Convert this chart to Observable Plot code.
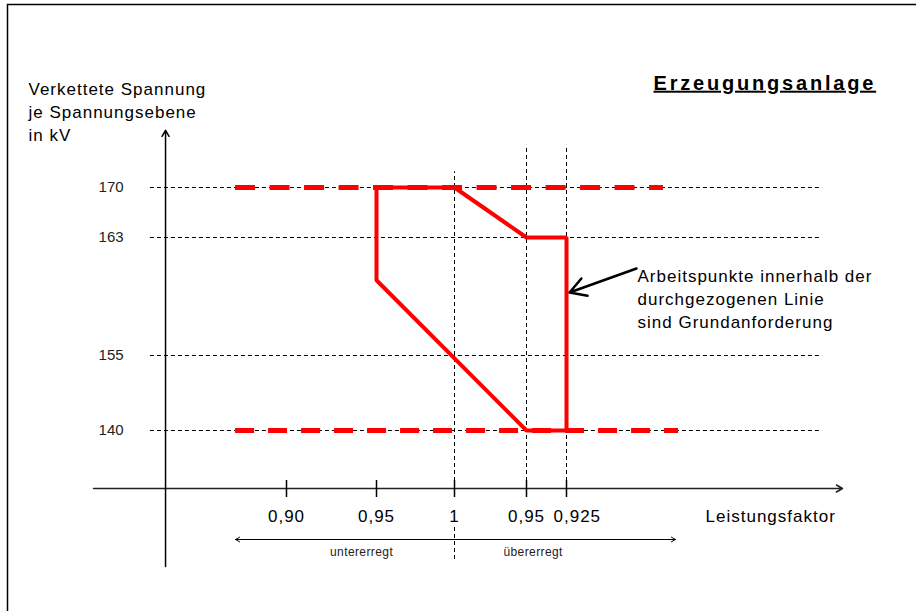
<!DOCTYPE html>
<html>
<head>
<meta charset="utf-8">
<script src="https://cdn.jsdelivr.net/npm/d3@7"></script>
<script src="https://cdn.jsdelivr.net/npm/@observablehq/plot@0.6"></script>
<style>
  body { margin: 0; background: #fff; }
  #chart svg g[font-size="20"] text { letter-spacing: 2.8px; text-decoration: underline; }
  #chart svg g[font-size="17"] text { letter-spacing: 1px; }
  #chart svg g[font-size="12"] text { letter-spacing: 0.4px; }
</style>
</head>
<body>
<div id="chart"></div>
<script>
// x = signed deviation of the power factor from 1 (negative: untererregt, positive: übererregt)
const xTickValues = [-0.10, -0.05, 0, 0.05, 0.075];
const xTickLabels = ["0,90", "0,95", "1", "0,95", "0,925"];
const yTickValues = [140, 155, 163, 170];
const yTickLabels = ["140", "155", "163", "170"];

// Boundary of the Grundanforderung (solid red polygon)
const boundaryPf = [-0.05, 0, 0.05, 0.075, 0.075, 0.05, -0.05, -0.05];
const boundaryKv = [170, 170, 163, 163, 140, 140, 160.1, 170];

// Voltage limits (dashed red)
const limitKv = [170, 140];
const limitFromPf = [-0.1283, -0.1283];
const limitToPf = [0.1356, 0.145];

// Reference verticals (dashed black)
const refPf = [0, 0.05, 0.075];
const refTopKv = [172.2, 175.9, 175.9];

// Schematic axis extents
const gridFromPf = -0.1756, gridToPf = 0.2338;
const axisKv = 128.4, axisPf = -0.1672;
const xAxisFromPf = -0.2072, xAxisToPf = 0.2475;
const yAxisFromKv = 112.8, yAxisToKv = 178;
const excitKv = 118.2, excitLeftPf = -0.1283, excitRightPf = 0.1431;
const excitLabels = ["untererregt", "übererregt"];
const excitLabelPf = [-0.0583, 0.034];

// Annotation
const noteFrom = {pf: 0.11875, kv: 160.9};
const noteTo = {pf: 0.0769, kv: 159.27};
const noteText = "Arbeitspunkte innerhalb der\ndurchgezogenen Linie\nsind Grundanforderung";
const title = "Erzeugungsanlage";
const yTitle = "Verkettete Spannung\nje Spannungsebene\nin kV";
const xTitle = "Leistungsfaktor";
const xTitlePf = 0.1619;

const boundary = boundaryPf.map((pf, i) => ({pf, kv: boundaryKv[i]}));
const limits = limitKv.map((kv, i) => ({kv, from: limitFromPf[i], to: limitToPf[i]}));
const xTicks = xTickValues.map((v, i) => ({v, label: xTickLabels[i], i}));
const red = "#ff0000";

const plot = Plot.plot({
  width: 916,
  height: 611,
  margin: 0,
  style: {fontFamily: '"Liberation Sans", Arial, sans-serif', color: "#111", background: "#fff"},
  x: {type: "linear", domain: xTickValues, range: [286, 376, 454, 526, 566], axis: null},
  y: {type: "linear", domain: yTickValues, range: [430, 355, 237, 187], axis: null},
  marks: [
    Plot.frame({stroke: "#000", strokeWidth: 1.5, insetLeft: 7, insetTop: 4, insetRight: -20, insetBottom: -20}),
    // horizontal dashed gridlines
    Plot.ruleY(yTickValues, {y: d => d, x1: gridFromPf, x2: gridToPf, stroke: "#000", strokeWidth: 1, strokeDasharray: "4,3"}),
    // vertical dashed reference lines
    Plot.ruleX(refPf, {x: d => d, y1: axisKv, y2: (d, i) => refTopKv[i], stroke: "#000", strokeWidth: 1, strokeDasharray: "4,3"}),
    Plot.ruleX([0], {x: d => d, y1: 120.6, y2: 114, stroke: "#000", strokeWidth: 1, strokeDasharray: "4,3"}),
    // dashed red limit lines
    Plot.ruleY(limits.slice(0, 1), {y: "kv", x1: "from", x2: "to", stroke: red, strokeWidth: 5, strokeDasharray: "20,14.5"}),
    Plot.ruleY(limits.slice(1), {y: "kv", x1: "from", x2: "to", stroke: red, strokeWidth: 5, strokeDasharray: "19,14"}),
    // solid red boundary
    Plot.line(boundary, {x: "pf", y: "kv", stroke: red, strokeWidth: 4, strokeLinejoin: "miter", strokeLinecap: "square"}),
    // axes
    Plot.arrow([0], {x1: xAxisFromPf, x2: xAxisToPf, y1: axisKv, y2: axisKv, stroke: "#222", strokeWidth: 1.5, headLength: 7}),
    Plot.arrow([0], {x1: axisPf, x2: axisPf, y1: yAxisFromKv, y2: yAxisToKv, stroke: "#000", strokeWidth: 1.5, headLength: 7}),
    Plot.ruleX(xTickValues, {x: d => d, y1: axisKv, y2: axisKv, insetTop: -8, insetBottom: -9, stroke: "#000", strokeWidth: 1.5}),
    // tick labels
    Plot.text(xTicks.filter(d => d.i < 4), {x: "v", y: axisKv, text: "label", dy: 28, fontSize: 17, fill: "#000"}),
    Plot.text(xTicks.filter(d => d.i === 4), {x: "v", y: axisKv, text: "label", dy: 28, dx: -13, textAnchor: "start", fontSize: 17, fill: "#000"}),
    Plot.text(yTickValues, {x: axisPf, y: d => d, text: (d, i) => yTickLabels[i], dx: -67, textAnchor: "start", fontSize: 15, fill: "#222"}),
    Plot.text([xTitle], {x: xTitlePf, y: axisKv, text: d => d, dy: 28, textAnchor: "start", fontSize: 17, fill: "#000"}),
    // excitation arrows
    Plot.arrow([excitLeftPf, excitRightPf], {x1: 0, x2: d => d, y1: excitKv, y2: excitKv, stroke: "#000", strokeWidth: 1, headLength: 7}),
    Plot.text(excitLabels.slice(0, 1), {x: excitLabelPf[0], y: excitKv, text: d => d, dy: 13, fontSize: 12, fill: "#222"}),
    Plot.text(excitLabels.slice(1), {x: excitLabelPf[1], y: excitKv, text: d => d, dy: 13, textAnchor: "start", fontSize: 12, fill: "#222"}),
    // annotation
    Plot.arrow([noteFrom], {x1: d => d.pf, y1: d => d.kv, x2: noteTo.pf, y2: noteTo.kv, stroke: "#000", strokeWidth: 2.5, headLength: 11}),
    Plot.text([noteText], {x: noteFrom.pf, y: noteFrom.kv, text: d => d, dx: 1, dy: -3, textAnchor: "start", lineAnchor: "top", lineHeight: 1.35, fontSize: 17, fill: "#000"}),
    // titles
    Plot.text([yTitle], {frameAnchor: "top-left", text: d => d, dx: 28, dy: 78, lineHeight: 1.35, fontSize: 17, fill: "#000"}),
    Plot.text([title], {frameAnchor: "top-left", text: d => d, dx: 653, dy: 75, fontSize: 20, fontWeight: "bold", fill: "#000"})
  ]
});
document.getElementById("chart").appendChild(plot);
</script>
</body>
</html>
